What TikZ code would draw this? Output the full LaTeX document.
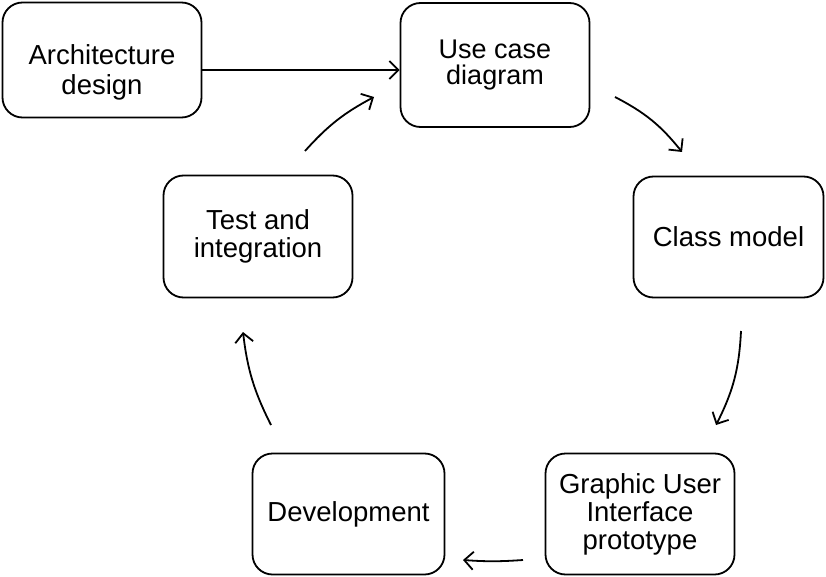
\documentclass[tikz,border=0pt]{standalone}
\usepackage{fontspec}
\setmainfont{Liberation Sans}
\usetikzlibrary{arrows.meta}
\begin{document}
\begin{tikzpicture}[x=1pt,y=-1pt,
  box/.style={draw,line width=1.8pt,rounded corners=20pt,align=center,
    font=\fontsize{27.5}{28}\selectfont,inner sep=0pt},
  txt/.style={align=center,font=\fontsize{27.5}{30}\selectfont,inner sep=0pt},
  conn/.style={line width=1.8pt,-{Straight Barb[length=9pt,width=18pt,line width=1.8pt]}}]
\useasboundingbox (0,0) rectangle (826,577);
\node[box,minimum width=199pt,minimum height=115pt] (arch) at (102,60) {};
\node[txt] (archtxt) at ([yshift=-12pt]arch.center) {Architecture\\design};
\node[box,minimum width=189pt,minimum height=124pt,font=\fontsize{27}{26.5}\selectfont] (use) at (495,65) {Use case\\diagram};
\node[box,minimum width=190pt,minimum height=121pt] (cls) at (728.5,237) {Class model};
\node[box,minimum width=189pt,minimum height=121pt] (gui) at (640,514) {Graphic User\\Interface\\prototype};
\node[box,minimum width=192pt,minimum height=121pt] (dev) at (348.5,514) {Development};
\node[box,minimum width=189pt,minimum height=122pt] (test) at (258,236.5) {Test and\\integration};
\coordinate (a1) at (615,97); \coordinate (a2) at (682,152);
\coordinate (b1) at (741,331); \coordinate (b2) at (716,425);
\coordinate (c1) at (523,560); \coordinate (c2) at (463,560);
\coordinate (d1) at (271,425); \coordinate (d2) at (243,332);
\coordinate (e1) at (305,151); \coordinate (e2) at (374,97);
\draw[conn] (arch.east |- 0,70) -- (use.west |- 0,70);
\draw[conn] (a1) to[bend left=12] (a2);
\draw[conn] (b1) to[bend left=12] (b2);
\draw[conn] (c1) to[bend left=4] (c2);
\draw[conn] (d1) to[bend left=10] (d2);
\draw[conn] (e1) to[bend left=10] (e2);
\end{tikzpicture}
\end{document}
